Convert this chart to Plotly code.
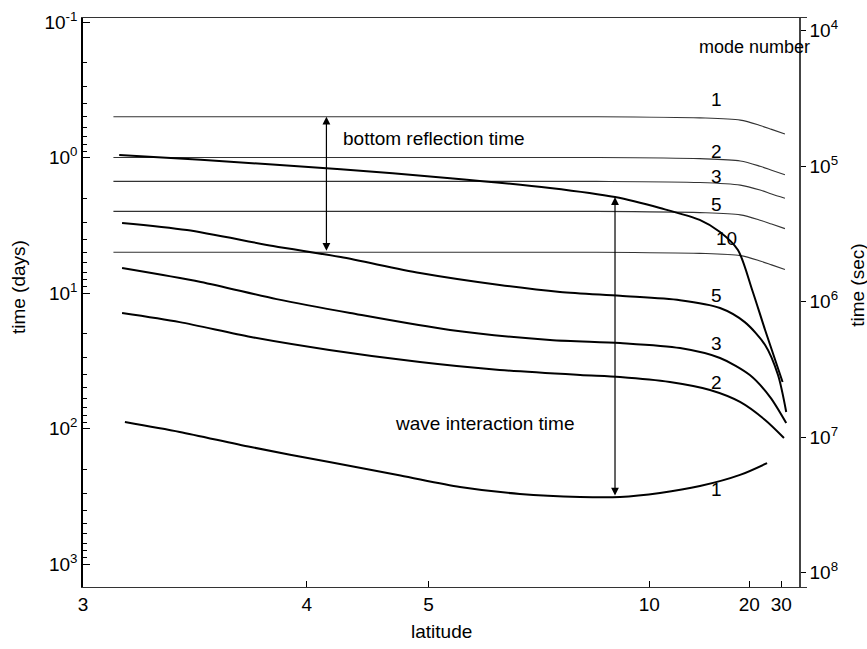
import numpy as np
import plotly.graph_objects as go

# values: latitude (deg) vs time (days)

# bottom reflection time (thin lines)
refl_lat = [3.1, 8.0, 13.3, 18.3, 22.5, 26.0, 31.8]
refl_1 = [0.5, 0.5, 0.51, 0.53, 0.58, 0.62, 0.67]
refl_2 = [1.0, 1.0, 1.02, 1.06, 1.16, 1.24, 1.34]
refl_3 = [1.5, 1.5, 1.53, 1.6, 1.74, 1.86, 2.0]
refl_5 = [2.5, 2.5, 2.55, 2.65, 2.9, 3.1, 3.35]
refl_10 = [5.0, 5.0, 5.1, 5.3, 5.8, 6.2, 6.7]

# wave interaction time (thick lines)
wave10_lat = [3.12, 3.44, 4.23, 5.24, 6.82, 8.59, 10.55, 13.3, 15.39, 17.9, 20.6, 23.9, 30.6]
wave10 = [0.96, 1.04, 1.22, 1.42, 1.68, 1.96, 2.36, 2.89, 3.55, 4.82, 9.5, 18.75, 45.4]

wave5_lat = [3.13, 3.38, 3.80, 4.23, 4.91, 5.91, 7.04, 8.77, 11.77, 15.39, 19.1, 23.9, 28.5, 32.5]
wave5 = [3.04, 3.43, 4.50, 5.43, 7.12, 8.73, 9.83, 10.5, 11.3, 12.9, 16.4, 24.2, 40.3, 75.5]

wave3_lat = [3.13, 3.44, 3.82, 4.30, 5.24, 6.82, 8.77, 11.77, 15.39, 20.1, 25.5, 32.5]
wave3 = [6.54, 8.29, 11.1, 14.05, 18.75, 22.2, 23.4, 25.5, 30.2, 40.3, 58.6, 91.1]

wave2_lat = [3.13, 3.35, 3.68, 4.15, 4.91, 5.91, 7.53, 8.77, 11.12, 14.28, 18.25, 23.9, 31.3]
wave2 = [14.05, 16.4, 21.1, 26.3, 32.3, 37.0, 40.3, 41.7, 45.4, 52.0, 63.7, 86.5, 117.5]

wave1_lat = [3.14, 3.35, 3.68, 4.15, 4.72, 5.36, 6.24, 7.53, 8.77, 10.55, 13.32, 18.25, 24.5]
wave1 = [89.5, 106, 137, 177, 222, 270, 304, 320, 320, 299, 266, 220, 180]

lat_ticks = [3, 4, 5, 10, 20, 30]
day_ticks = [0.1, 1, 10, 100, 1000]
day_labels = ["10<sup>-1</sup>", "10<sup>0</sup>", "10<sup>1</sup>", "10<sup>2</sup>", "10<sup>3</sup>"]
sec_ticks = [1e4, 1e5, 1e6, 1e7, 1e8]
sec_labels = ["10<sup>4</sup>", "10<sup>5</sup>", "10<sup>6</sup>", "10<sup>7</sup>", "10<sup>8</sup>"]

SEC_PER_DAY = 86400.0
FONT = "Liberation Sans, Arial, sans-serif"
FS = 19


def xpos(lat):
    # stretched latitude scale of the original figure
    return -1.0 / (np.asarray(lat, dtype=float) - 0.6)


fig = go.Figure()

for d in [refl_1, refl_2, refl_3, refl_5, refl_10]:
    fig.add_trace(go.Scatter(x=xpos(refl_lat), y=d, mode="lines",
                             line=dict(color="#333333", width=1.1, shape="spline", smoothing=0.8),
                             showlegend=False, hoverinfo="skip"))

for la, d in [(wave10_lat, wave10), (wave5_lat, wave5), (wave3_lat, wave3),
              (wave2_lat, wave2), (wave1_lat, wave1)]:
    fig.add_trace(go.Scatter(x=xpos(la), y=d, mode="lines",
                             line=dict(color="black", width=2, shape="spline", smoothing=0.8),
                             showlegend=False, hoverinfo="skip"))

# empty trace so the seconds axis gets drawn
fig.add_trace(go.Scatter(x=[], y=[], yaxis="y2", showlegend=False, hoverinfo="skip"))

y_range = [3.1697, -1.0295]
sec_shift = np.log10(SEC_PER_DAY)

annotations = []


def label(text, lat, days, xanchor="center", size=FS):
    annotations.append(dict(x=float(xpos(lat)), y=float(np.log10(days)), xref="x", yref="y",
                            text=text, showarrow=False, xanchor=xanchor, yanchor="middle",
                            font=dict(size=size, color="black", family=FONT)))


label("mode number", 21.2, 0.152, size=18)
label("1", 15.0, 0.376)
label("2", 15.0, 0.91)
label("3", 15.0, 1.37)
label("5", 15.0, 2.24)
label("10", 16.2, 3.93)
label("5", 15.0, 10.35)
label("3", 15.0, 23.4)
label("2", 15.0, 46.1)
label("1", 15.0, 284)
label("bottom reflection time", 4.23, 0.72, xanchor="left")
label("wave interaction time", 5.68, 91.1)


def double_arrow(lat, d_top, d_bot):
    annotations.append(dict(x=float(xpos(lat)), y=float(np.log10(d_top)),
                            ax=float(xpos(lat)), ay=float(np.log10(d_bot)),
                            xref="x", yref="y", axref="x", ayref="y", text="",
                            showarrow=True, arrowside="end+start",
                            arrowhead=2, startarrowhead=2, arrowsize=1.3, startarrowsize=1.3,
                            arrowwidth=1.2, arrowcolor="black", standoff=0, startstandoff=0))


double_arrow(4.13, 0.5, 5.0)
double_arrow(8.59, 1.96, 320)

# axis titles
annotations.append(dict(x=-0.0898, y=0.527, xref="paper", yref="paper", text="time (days)",
                        textangle=-90, showarrow=False, xanchor="center", yanchor="middle",
                        font=dict(size=FS, family=FONT, color="black")))
annotations.append(dict(x=1.0704, y=0.531, xref="paper", yref="paper", text="time (sec)",
                        textangle=-90, showarrow=False, xanchor="center", yanchor="middle",
                        font=dict(size=FS, family=FONT, color="black")))
annotations.append(dict(x=0.4945, y=-0.079, xref="paper", yref="paper", text="latitude",
                        showarrow=False, xanchor="center", yanchor="middle",
                        font=dict(size=FS, family=FONT, color="black")))

minor_vals = [k * 10.0 ** n for n in range(-1, 3) for k in range(2, 10)]

fig.update_layout(
    width=867, height=649, autosize=False,
    margin=dict(l=83, r=60, t=18, b=62, autoexpand=False),
    paper_bgcolor="white", plot_bgcolor="white",
    font=dict(family=FONT, size=FS, color="black"),
    annotations=annotations,
    xaxis=dict(range=[float(xpos(3)), float(xpos(50.7))],
               tickmode="array", tickvals=list(xpos(lat_ticks)), ticktext=[str(v) for v in lat_ticks],
               ticks="inside", ticklen=6, tickcolor="black", tickwidth=1,
               showline=True, linecolor="#333333", linewidth=1.2, mirror=True,
               showgrid=False, zeroline=False, tickfont=dict(size=FS), automargin=False),
    yaxis=dict(type="log", range=y_range,
               tickmode="array", tickvals=day_ticks, ticktext=day_labels,
               ticks="inside", ticklen=7, tickcolor="black", tickwidth=1.2,
               minor=dict(tickmode="array", tickvals=minor_vals, ticks="inside", ticklen=4,
                          tickcolor="black", tickwidth=1, showgrid=False),
               showline=True, linecolor="black", linewidth=1.5, mirror=False,
               showgrid=False, zeroline=False, tickfont=dict(size=FS), automargin=False),
    yaxis2=dict(type="log", overlaying="y", anchor="free", position=0.9903, side="right",
                range=[y_range[0] + sec_shift, y_range[1] + sec_shift],
                tickmode="array", tickvals=sec_ticks, ticktext=sec_labels,
                ticks="outside", ticklen=5, tickcolor="black", tickwidth=1,
                showline=True, linecolor="#444444", linewidth=1.5,
                showgrid=False, zeroline=False, tickfont=dict(size=FS), automargin=False),
)

fig.write_html("out.html", config={"displayModeBar": False},
               post_script="document.body.style.margin='0';")
